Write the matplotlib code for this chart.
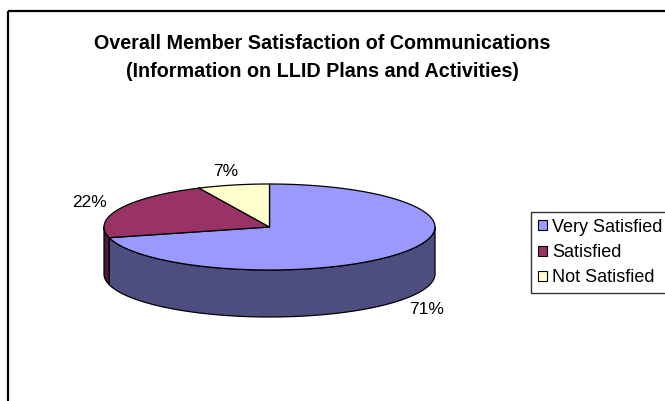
import numpy as np
import matplotlib
matplotlib.use("Agg")
import matplotlib.pyplot as plt
from matplotlib.patches import Polygon, Rectangle, Patch

plt.rcParams['font.family'] = ['Liberation Sans', 'DejaVu Sans']

# ---- data ----
categories = ["Very Satisfied", "Satisfied", "Not Satisfied"]
values = [71, 22, 7]
title_lines = ["Overall Member Satisfaction of Communications",
               "(Information on LLID Plans and Activities)"]

# ---- style ----
top_colors = ["#9999FF", "#993366", "#FFFFCC"]
side_colors = ["#4D4D80", "#4D1A33", "#808066"]

W, H = 665, 401
fig = plt.figure(figsize=(W / 100, H / 100), dpi=100)
ax = fig.add_axes([0, 0, 1, 1])
ax.set_xlim(0, W)
ax.set_ylim(H, 0)
ax.axis("off")

# outer chart border (extends beyond image at right/bottom)
ax.add_patch(Rectangle((7.5, 10.5), W + 20, H + 20, fill=False, ec="black", lw=1.6))

cx, cy, rx, ry, depth = 269.5, 227, 165.5, 43, 47

def pt(t, dy=0.0):
    r = np.radians(t)
    return cx + rx * np.cos(r), cy - ry * np.sin(r) + dy

total = float(sum(values))
angles = []
start = 90.0
for v in values:
    end = start - 360.0 * v / total
    angles.append((start, end))
    start = end

# side walls (visible lower half)
for (a0, a1), sc in zip(angles, side_colors):
    for shift in (-360, 0, 360):
        lo, hi = a1 + shift, a0 + shift
        s, e = max(lo, 180), min(hi, 360)
        if e > s:
            ts = np.linspace(s, e, 80)
            top = [pt(t) for t in ts]
            bot = [pt(t, depth) for t in ts[::-1]]
            ax.add_patch(Polygon(top + bot, closed=True, fc=sc, ec="black", lw=0.9, joinstyle="round"))

# top face wedges
for (a0, a1), tc in zip(angles, top_colors):
    ts = np.linspace(a0, a1, 120)
    pts = [(cx, cy)] + [pt(t) for t in ts]
    ax.add_patch(Polygon(pts, closed=True, fc=tc, ec="black", lw=0.9, joinstyle="round"))

# data labels
kx, ky = 1.2, 1.33
for (a0, a1), v in zip(angles, values):
    m = np.radians((a0 + a1) / 2)
    x = cx + kx * rx * np.cos(m)
    y = cy - ky * ry * np.sin(m) + (depth if np.sin(m) < 0 else 0)
    ax.text(x, y, f"{v}%", ha="center", va="center", fontsize=12.5, color="black")

for line, yb in zip(title_lines, (49, 77)):
    ax.text(322, yb, line, ha="center", va="baseline", fontsize=14.2, fontweight="bold")

handles = [Patch(fc=c, ec="black", lw=0.8) for c in top_colors]
leg = fig.legend(handles, categories, loc="lower left", bbox_to_anchor=(531 / W, 1 - 293 / H),
                 frameon=True, fancybox=False, edgecolor="black", fontsize=13,
                 handlelength=0.48, handleheight=0.48, handletextpad=0.3,
                 labelspacing=0.45, borderpad=0.38, borderaxespad=0)
leg.get_frame().set_linewidth(1.0)

fig.savefig("out.png", dpi=100, facecolor="white")
